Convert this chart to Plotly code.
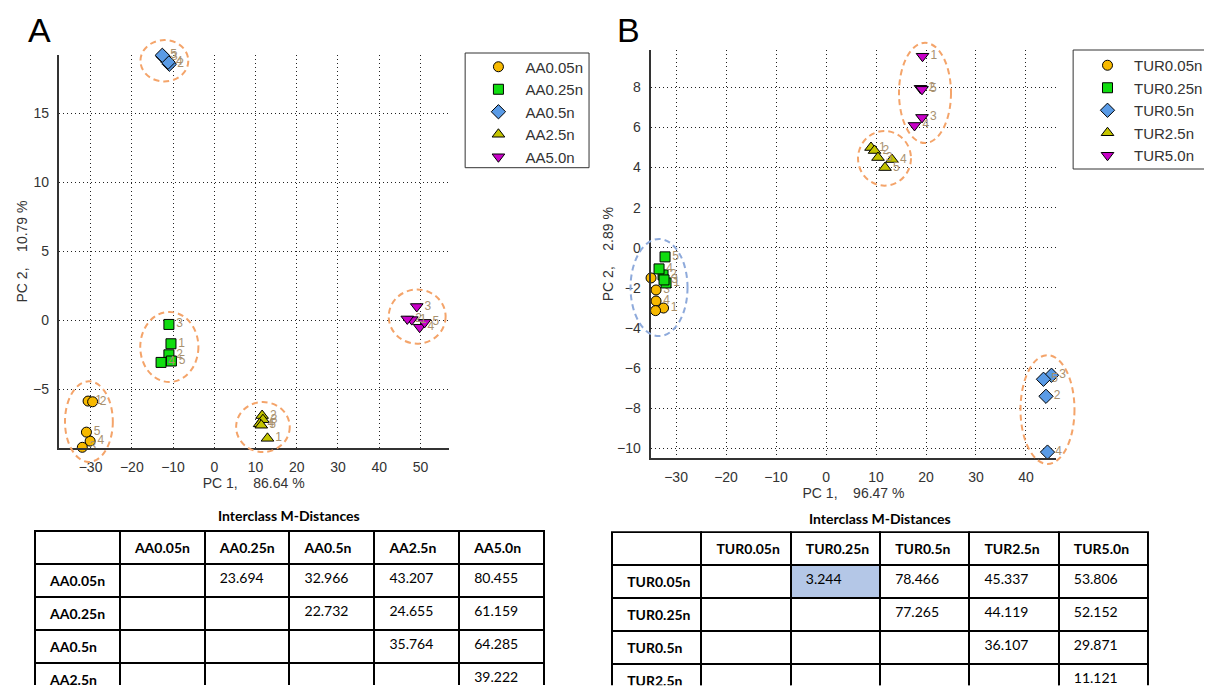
import plotly.graph_objects as go

# ---------------- data ----------------
aa_classes = ["AA0.05n", "AA0.25n", "AA0.5n", "AA2.5n", "AA5.0n"]
aa_pc1 = [
    [-30.6, -29.5, -32.0, -30.1, -31.0],
    [-10.5, -11.0, -11.0, -12.9, -10.4],
    [-12.8, -10.9, -12.4, -11.2, -12.6],
    [12.9, 11.6, 11.8, 11.0, 11.4],
    [47.9, 46.8, 49.1, 49.8, 51.0],
]
aa_pc2 = [
    [-5.85, -5.9, -9.2, -8.75, -8.1],
    [-1.7, -2.5, -0.3, -3.05, -2.95],
    [19.3, 18.55, 19.1, 18.7, 19.2],
    [-8.55, -6.9, -7.2, -7.5, -7.6],
    [0.05, 0.1, 1.0, -0.5, -0.15],
]
aa_ids = [["1", "2", "3", "4", "5"]] * 5

tur_classes = ["TUR0.05n", "TUR0.25n", "TUR0.5n", "TUR2.5n", "TUR5.0n"]
tur_pc1 = [
    [-32.5, -35.2, -34.0, -34.0, -35.0, -34.1],
    [-32.0, -32.6, -32.4, -33.4, -32.2],
    [46.2, 44.0, 45.1, 44.3, 43.5],
    [9.0, 9.7, 10.4, 13.2, 11.8],
    [19.3, 18.9, 19.2, 17.7, 19.2],
]
tur_pc2 = [
    [-3.0, -3.45, -2.1, -2.65, -1.5, -3.13],
    [-1.75, -1.35, -1.6, -1.05, -0.45],
    [-7.8, -7.4, -6.35, -10.18, -6.55],
    [5.0, 4.85, 4.5, 4.4, 4.0],
    [9.55, 7.95, 6.5, 6.1, 7.9],
]
tur_ids = [
    ["1", "2", "3", "4", "5", ""],
    ["1", "2", "3", "4", "5"],
    ["1", "2", "3", "4", "5"],
    ["1", "2", "3", "4", "5"],
    ["1", "2", "3", "4", "5"],
]

# cluster outlines: centre pc1, centre pc2, half-width, half-height
aa_rings = [(-30.4, -7.34, 5.8, 2.92), (-10.9, -1.93, 7.05, 2.54),
            (-12.1, 18.8, 5.8, 1.5), (11.8, -7.73, 6.5, 1.81), (49.2, 0.27, 6.9, 1.96)]
tur_rings = [(-33.4, -1.98, 5.7, 2.42), (44.3, -8.06, 5.4, 2.71),
             (11.7, 4.46, 5.3, 1.36), (19.8, 7.72, 5.2, 2.5)]
tur_ring_colors = ["#8EAADB", "#F4A46A", "#F4A46A", "#F4A46A"]

# interclass Mahalanobis distances (upper triangle, row -> column)
aa_dist = [
    [None, 23.694, 32.966, 43.207, 80.455],
    [None, None, 22.732, 24.655, 61.159],
    [None, None, None, 35.764, 64.285],
    [None, None, None, None, 39.222],
]
tur_dist = [
    [None, 3.244, 78.466, 45.337, 53.806],
    [None, None, 77.265, 44.119, 52.152],
    [None, None, None, 36.107, 29.871],
    [None, None, None, None, 11.121],
]

# ---------------- style ----------------
W, H = 1208, 686
symbols = ["circle", "square", "diamond", "triangle-up", "triangle-down"]
fills = ["#F7B900", "#10DD10", "#5A9BE6", "#C4C400", "#C800C8"]
sizes = [10, 10, 11, 11, 11]
LABEL_COLOR = "#A8916F"
AXFONT = dict(family="Liberation Sans, Arial, sans-serif", size=14, color="#333333")
PAD = "\u00a0\u00a0"  # extra left padding inside table cells

A_X, A_Y = [-37.7, 56.8], [-9.25, 19.22]
B_X, B_Y = [-35.1, 46.1], [-10.49, 9.86]


def px_x(p):
    return p / W


def px_y(p):
    return 1 - p / H


fig = go.Figure()


def add_points(classes, pc1, pc2, ids, xa, ya, legend):
    for i, name in enumerate(classes):
        fig.add_trace(go.Scatter(
            x=pc1[i], y=pc2[i], text=ids[i], name=name,
            mode="markers+text", textposition="middle right",
            textfont=dict(family="Liberation Sans, Arial", size=12, color=LABEL_COLOR),
            marker=dict(symbol=symbols[i], size=sizes[i], color=fills[i],
                        line=dict(color="black", width=1)),
            xaxis=xa, yaxis=ya, legend=legend, cliponaxis=False,
        ))


add_points(aa_classes, aa_pc1, aa_pc2, aa_ids, "x", "y", "legend")
add_points(tur_classes, tur_pc1, tur_pc2, tur_ids, "x2", "y2", "legend2")


def dom(v, rng):
    return (v - rng[0]) / (rng[1] - rng[0])


def add_rings(rings, colors, xref, yref, xr, yr):
    for (cx, cy, rx, ry), col in zip(rings, colors):
        fig.add_shape(type="circle", xref=xref + " domain", yref=yref + " domain",
                      x0=dom(cx - rx, xr), x1=dom(cx + rx, xr),
                      y0=dom(cy - ry, yr), y1=dom(cy + ry, yr),
                      line=dict(color=col, width=2, dash="6px,4px"), layer="above")


add_rings(aa_rings, ["#F4A46A"] * len(aa_rings), "x", "y", A_X, A_Y)
add_rings(tur_rings, tur_ring_colors, "x2", "y2", B_X, B_Y)


def axis(rng, dtick, domain, title, standoff):
    return dict(range=rng, dtick=dtick, domain=domain, showline=True, linecolor="#333333",
                linewidth=2, mirror=False, zeroline=False, showgrid=True,
                gridcolor="#222222", gridwidth=1, griddash="1px,3px", ticks="",
                tickfont=AXFONT, ticklabelstandoff=5,
                title=dict(text=title, font=AXFONT, standoff=standoff), automargin=False)


legend_common = dict(borderwidth=0, bgcolor="rgba(0,0,0,0)",
                     font=dict(family="Liberation Sans, Arial", size=15, color="#333333"),
                     xanchor="left", yanchor="top", tracegroupgap=0)

fig.update_layout(
    width=W, height=H, margin=dict(l=0, r=0, t=0, b=0),
    paper_bgcolor="white", plot_bgcolor="white", showlegend=True,
    xaxis=axis(A_X, 10, [px_x(59), px_x(450)], "PC 1,    86.64 %", 1),
    yaxis=axis(A_Y, 5, [px_y(448), px_y(55)], "PC 2,    10.79 %", 2),
    xaxis2=axis(B_X, 10, [px_x(652.7), px_x(1060)], "PC 1,    96.47 %", 1),
    yaxis2=axis(B_Y, 2, [px_y(458.3), px_y(50)], "PC 2,    2.89 %", 0),
    legend=dict(x=px_x(473), y=px_y(50.5), itemwidth=44, **legend_common),
    legend2=dict(x=px_x(1085), y=px_y(49), itemwidth=43, **legend_common),
)
fig.layout.yaxis2.anchor = "x2"
fig.layout.xaxis2.anchor = "y2"

# legend frames (the right-hand one runs off the page edge, so it stays open there)
fig.add_shape(type="rect", xref="paper", yref="paper",
              x0=px_x(466.7), x1=px_x(591), y0=px_y(167.7), y1=px_y(53),
              line=dict(color="#333333", width=1), fillcolor="rgba(0,0,0,0)", layer="above")
fig.add_shape(type="path", xref="paper", yref="paper",
              path=(f"M 1,{px_y(50)} L {px_x(1076.7)},{px_y(50)} "
                    f"L {px_x(1076.7)},{px_y(169)} L 1,{px_y(169)}"),
              line=dict(color="#333333", width=1), layer="above")

# panel letters
for letter, xp in (("A", 26), ("B", 617)):
    fig.add_annotation(text=letter, x=px_x(xp), y=px_y(9), xref="paper", yref="paper",
                       xanchor="left", yanchor="top", showarrow=False,
                       font=dict(family="Liberation Sans, Arial", size=34, color="black"))


# distance tables
def fmt(v):
    return "" if v is None else PAD + f"{v:.3f}"


def add_table(classes, dist, x0, x1, ytop, title_x, title_y, highlight=None):
    header = [""] + [f"{PAD}<b>{c}</b>" for c in classes]
    rows = [f"{PAD}<b>{c}</b>" for c in classes[:len(dist)]]
    cols = [rows] + [[fmt(dist[r][c]) for r in range(len(dist))] for c in range(len(classes))]
    fill = [["white"] * len(dist) for _ in cols]
    if highlight:
        r, c = highlight
        fill[c + 1][r] = "#B4C7E7"
    rh = 29.8
    fig.add_trace(go.Table(
        domain=dict(x=[px_x(x0), px_x(x1)], y=[0, px_y(ytop)]),
        columnwidth=[1] * len(cols),
        header=dict(values=header, align="left", height=rh,
                    line=dict(color="black", width=2), fill=dict(color="white"),
                    font=dict(family="Lato, sans-serif", size=14, color="black")),
        cells=dict(values=cols, align="left", height=rh,
                   line=dict(color="black", width=2), fill=dict(color=fill),
                   font=dict(family="Lato, sans-serif", size=14, color="black")),
    ))
    fig.add_annotation(text="<b>Interclass M-Distances</b>", x=px_x(title_x), y=px_y(title_y),
                       xref="paper", yref="paper", showarrow=False,
                       xanchor="center", yanchor="middle",
                       font=dict(family="Lato, sans-serif", size=14, color="black"))


add_table(aa_classes, aa_dist, 35, 545.7, 531, 289.5, 515)
add_table(tur_classes, tur_dist, 614, 1152.3, 532.3, 883, 518, highlight=(0, 1))

fig.write_html("out.html")
